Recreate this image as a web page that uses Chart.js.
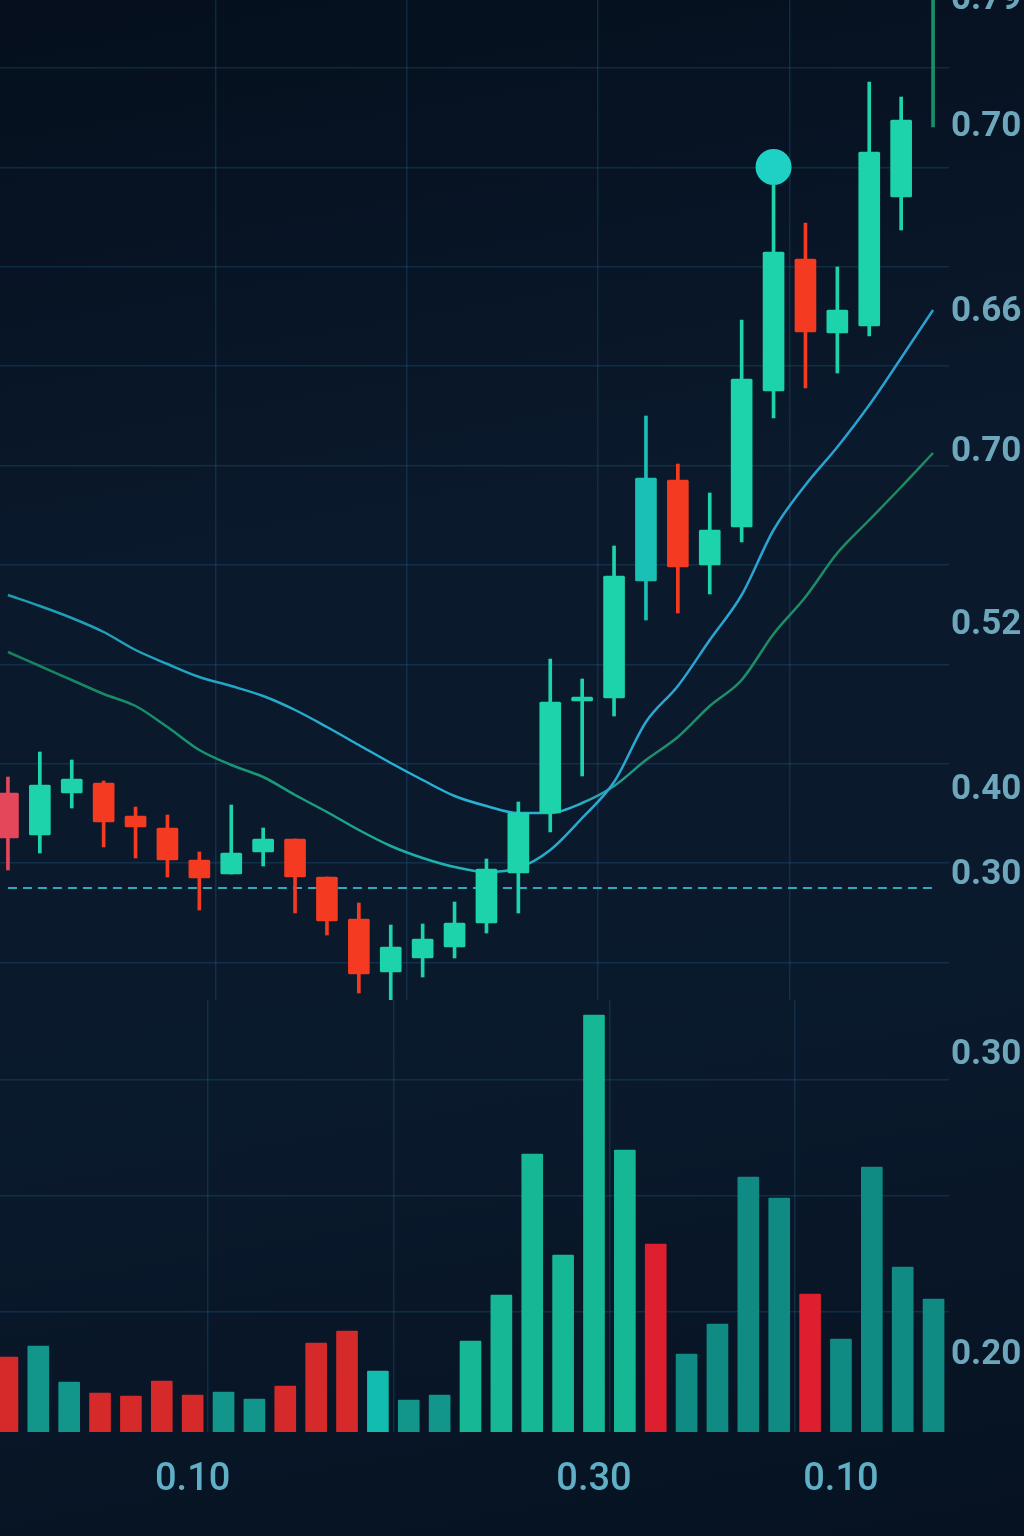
<!DOCTYPE html>
<html lang="en">
<head>
<meta charset="utf-8">
<title>Candlestick chart with volume</title>
<script src="https://cdn.jsdelivr.net/npm/chart.js@4.4.1/dist/chart.umd.min.js"></script>
<style>
  html, body { margin:0; padding:0; }
  body { width:1024px; height:1536px; position:relative; overflow:hidden;
         background: linear-gradient(170deg, #050f1d 0%, #0a192c 35%, #0a1a2d 65%, #061221 100%); }
  canvas { position:absolute; left:-8px; display:block; }
  #priceCanvas { top:0; }
  #volumeCanvas { top:1000px; }
</style>
</head>
<body>
<canvas id="priceCanvas" width="1032" height="1000"></canvas>
<canvas id="volumeCanvas" width="1032" height="536"></canvas>
<script>
// ================= DATA =================
const candleLabels = ['T01','T02','T03','T04','T05','T06','T07','T08','T09','T10',
                      'T11','T12','T13','T14','T15','T16','T17','T18','T19','T20',
                      'T21','T22','T23','T24','T25','T26','T27','T28','T29','T30'];
const openPrices  = [0.207,0.165,0.207,0.217,0.184,0.172,0.140,0.126,0.148,0.161,
                     0.123,0.081,0.028,0.042,0.053,0.077,0.127,0.187,0.299,0.302,
                     0.419,0.520,0.435,0.473,0.609,0.741,0.667,0.674,0.803,1.060];
const closePrices = [0.162,0.215,0.221,0.178,0.173,0.140,0.122,0.147,0.161,0.123,
                     0.079,0.026,0.053,0.061,0.077,0.131,0.187,0.298,0.303,0.424,
                     0.522,0.433,0.470,0.621,0.748,0.668,0.690,0.848,0.880,1.250];
const highPrices  = [0.223,0.248,0.240,0.219,0.193,0.185,0.148,0.195,0.172,0.161,
                     0.123,0.097,0.075,0.076,0.098,0.141,0.198,0.341,0.321,0.454,
                     0.584,0.536,0.507,0.680,0.815,0.777,0.733,0.918,0.903,1.300];
const lowPrices   = [0.130,0.147,0.192,0.153,0.142,0.123,0.090,0.126,0.134,0.087,
                     0.065,0.007,0.000,0.023,0.042,0.067,0.087,0.168,0.224,0.284,
                     0.380,0.387,0.406,0.458,0.582,0.612,0.627,0.664,0.770,0.873];
const fastMA = [0.348,0.334,0.320,0.306,0.294,0.273,0.250,0.235,0.223,0.205,
                0.188,0.170,0.154,0.142,0.133,0.128,0.132,0.150,0.182,0.218,
                0.278,0.314,0.360,0.405,0.470,0.515,0.553,0.595,0.642,0.690];
const slowMA = [0.405,0.394,0.382,0.368,0.350,0.336,0.323,0.314,0.304,0.290,
                0.273,0.255,0.237,0.220,0.204,0.194,0.187,0.187,0.197,0.214,
                0.240,0.263,0.294,0.320,0.366,0.403,0.447,0.480,0.513,0.547];
const lastPriceLevel = 0.112;
const markerValues = [null,null,null,null,null,null,null,null,null,null,
                      null,null,null,null,null,null,null,null,null,null,
                      null,null,null,null,0.833,null,null,null,null,null];
const priceTickValues = [1.000, 0.873, 0.688, 0.548, 0.375, 0.210, 0.125];
const priceTickLabels = ['0.79','0.70','0.66','0.70','0.52','0.40','0.30'];

const volumeLabels = ['V01','V02','V03','V04','V05','V06','V07','V08','V09','V10',
                      'V11','V12','V13','V14','V15','V16','V17','V18','V19','V20',
                      'V21','V22','V23','V24','V25','V26','V27','V28','V29','V30','V31'];
const volumes = [75,86,50,39,36,51,37,40,33,46,
                 89,101,61,32,37,91,137,278,177,417,
                 282,188,78,108,255,234,138,93,265,165,133];
const volumeSide = ['down','up','up','down','down','down','down','up','up','down',
                    'down','down','up','up','up','up','up','up','up','up',
                    'up','down','up','up','up','up','down','up','up','up','up'];
const volumeTickValues = [377, 77];
const volumeTickLabels = ['0.30','0.20'];
const volumeXTickLabels = ['','','','','','','0.10','','','',
                           '','','','','','','','','','0.30',
                           '','','','','','','','0.10','','',''];

// ================= STYLE =================
const FONT = "Roboto, 'Noto Sans', sans-serif";
const TICK_COLOR = '#6ea6bb';
const GRID_COLOR = 'rgba(38, 98, 140, 0.30)';
const VGRID_COLOR = 'rgba(38, 98, 140, 0.30)';
const UP = '#1dd3ac', DOWN = '#f43b21';
const candleColorOverrides = {0: '#e4475a', 20: '#19c0b3', 29: '#178f6a'};
const candleColors = openPrices.map((o, i) =>
  candleColorOverrides[i] || (closePrices[i] >= o ? UP : DOWN));
const priceGridBoundaries = [7, 13, 19, 25];
const volumeGridBoundaries = [7, 13, 20, 26];

function volumeColor(i) {
  if (volumeSide[i] === 'down') return i > 20 ? '#de1f2f' : '#d62a2a';
  if (i === 12) return '#12bcae';
  if (i >= 15 && i <= 20) return '#16b795';
  if (i >= 21) return '#0f8b83';
  return '#12958a';
}
const volumeColors = volumes.map((v, i) => volumeColor(i));

function hGradient(context, stops) {
  const chart = context.chart;
  const area = chart.chartArea;
  if (!area) return stops[0][1];
  const g = chart.ctx.createLinearGradient(area.left, 0, area.right, 0);
  stops.forEach(s => g.addColorStop(s[0], s[1]));
  return g;
}

const zeroPadY = (s) => { s.paddingTop = 0; s.paddingBottom = 0; };
const integerTicksOnly = (s) => {
  s.ticks = s.ticks.filter(t => Math.abs(t.value - Math.round(t.value)) < 1e-6);
};
const boundaryGrid = (list) => (ctx) => list.includes(ctx.index) ? VGRID_COLOR : 'rgba(0,0,0,0)';
const rightTickFont = { family: FONT, size: 35, weight: 'bold' };

// ================= PRICE CHART =================
new Chart(document.getElementById('priceCanvas'), {
  type: 'bar',
  data: {
    labels: candleLabels,
    datasets: [
      {
        label: 'Marker', type: 'line', data: markerValues, order: 0,
        showLine: false, pointRadius: 18, pointHoverRadius: 18,
        pointBackgroundColor: '#1fd0c4', pointBorderWidth: 0
      },
      {
        label: 'Body', data: openPrices.map((o, i) => [o, closePrices[i]]),
        backgroundColor: candleColors, barThickness: 21, grouped: false,
        borderRadius: 1.5, borderSkipped: false, order: 1
      },
      {
        label: 'Wick', data: lowPrices.map((l, i) => [l, highPrices[i]]),
        backgroundColor: candleColors, barThickness: 3, grouped: false, order: 2
      },
      {
        label: 'Fast MA', type: 'line', data: fastMA, order: 3,
        borderWidth: 2.5, pointRadius: 0, tension: 0.4, cubicInterpolationMode: 'monotone',
        borderColor: (c) => hGradient(c, [[0,'#177f5a'],[0.3,'#199a78'],[0.5,'#1fb6b8'],[0.62,'#2aa8d2'],[1,'#2a9fd0']])
      },
      {
        label: 'Slow MA', type: 'line', data: slowMA, order: 3,
        borderWidth: 2.5, pointRadius: 0, tension: 0.4, cubicInterpolationMode: 'monotone',
        borderColor: (c) => hGradient(c, [[0,'#1e9aae'],[0.4,'#27afd6'],[0.6,'#2ab2d2'],[0.69,'#1d8f6c'],[1,'#1e8a5c']])
      },
      {
        label: 'Last price', type: 'line', data: candleLabels.map(() => lastPriceLevel), order: 4,
        borderWidth: 2, pointRadius: 0, borderColor: '#2ea7bf', borderDash: [9, 6]
      }
    ]
  },
  options: {
    responsive: false, animation: false, events: [],
    layout: { padding: 0, autoPadding: false },
    plugins: { legend: { display: false }, tooltip: { enabled: false } },
    scales: {
      x: {
        type: 'category', position: 'bottom', offset: true,
        ticks: { display: false },
        grid: { offset: true, drawTicks: false, lineWidth: 1.5, color: boundaryGrid(priceGridBoundaries) },
        border: { display: false },
        afterFit: (s) => { s.height = 0; s.paddingLeft = 0; s.paddingRight = 0; }
      },
      y: {
        type: 'linear', position: 'right', min: 0, max: 1,
        grid: { display: false, drawTicks: false }, border: { display: false },
        afterBuildTicks: (s) => { s.ticks = priceTickValues.map(v => ({ value: v })); },
        ticks: {
          autoSkip: false, padding: 2, color: TICK_COLOR, font: rightTickFont,
          callback: (v, i) => priceTickLabels[i]
        },
        afterFit: (s) => { s.width = 75; zeroPadY(s); }
      },
      gy: {
        type: 'linear', axis: 'y', position: 'left', min: 0.624, max: 10.684,
        ticks: { display: false, stepSize: 1 },
        grid: { color: GRID_COLOR, lineWidth: 1.5, drawTicks: false },
        border: { display: false },
        afterBuildTicks: integerTicksOnly,
        afterFit: (s) => { s.width = 0; zeroPadY(s); }
      }
    }
  }
});

// ================= VOLUME CHART =================
new Chart(document.getElementById('volumeCanvas'), {
  type: 'bar',
  data: {
    labels: volumeLabels,
    datasets: [{
      label: 'Volume', data: volumes, backgroundColor: volumeColors,
      barThickness: 21, borderRadius: 1
    }]
  },
  options: {
    responsive: false, animation: false, events: [],
    layout: { padding: 0, autoPadding: false },
    plugins: { legend: { display: false }, tooltip: { enabled: false } },
    scales: {
      x: {
        type: 'category', position: 'bottom', offset: true,
        grid: { offset: true, drawTicks: false, lineWidth: 1.5, color: boundaryGrid(volumeGridBoundaries) },
        border: { display: false },
        ticks: {
          autoSkip: false, maxRotation: 0, minRotation: 0, padding: 26, color: '#5fb0c6',
          font: { family: FONT, size: 38, weight: '500' },
          callback: (v, i) => volumeXTickLabels[i]
        },
        afterFit: (s) => { s.height = 104; s.paddingLeft = 0; s.paddingRight = 0; }
      },
      y: {
        type: 'linear', position: 'right', min: 0, max: 432,
        grid: { display: false, drawTicks: false }, border: { display: false },
        afterBuildTicks: (s) => { s.ticks = volumeTickValues.map(v => ({ value: v })); },
        ticks: {
          autoSkip: false, padding: 2, color: TICK_COLOR, font: rightTickFont,
          callback: (v, i) => volumeTickLabels[i]
        },
        afterFit: (s) => { s.width = 75; zeroPadY(s); }
      },
      gy: {
        type: 'linear', axis: 'y', position: 'left', min: -0.034, max: 3.69,
        ticks: { display: false, stepSize: 1 },
        grid: { color: GRID_COLOR, lineWidth: 1.5, drawTicks: false },
        border: { display: false },
        afterBuildTicks: integerTicksOnly,
        afterFit: (s) => { s.width = 0; zeroPadY(s); }
      }
    }
  }
});
</script>
</body>
</html>
